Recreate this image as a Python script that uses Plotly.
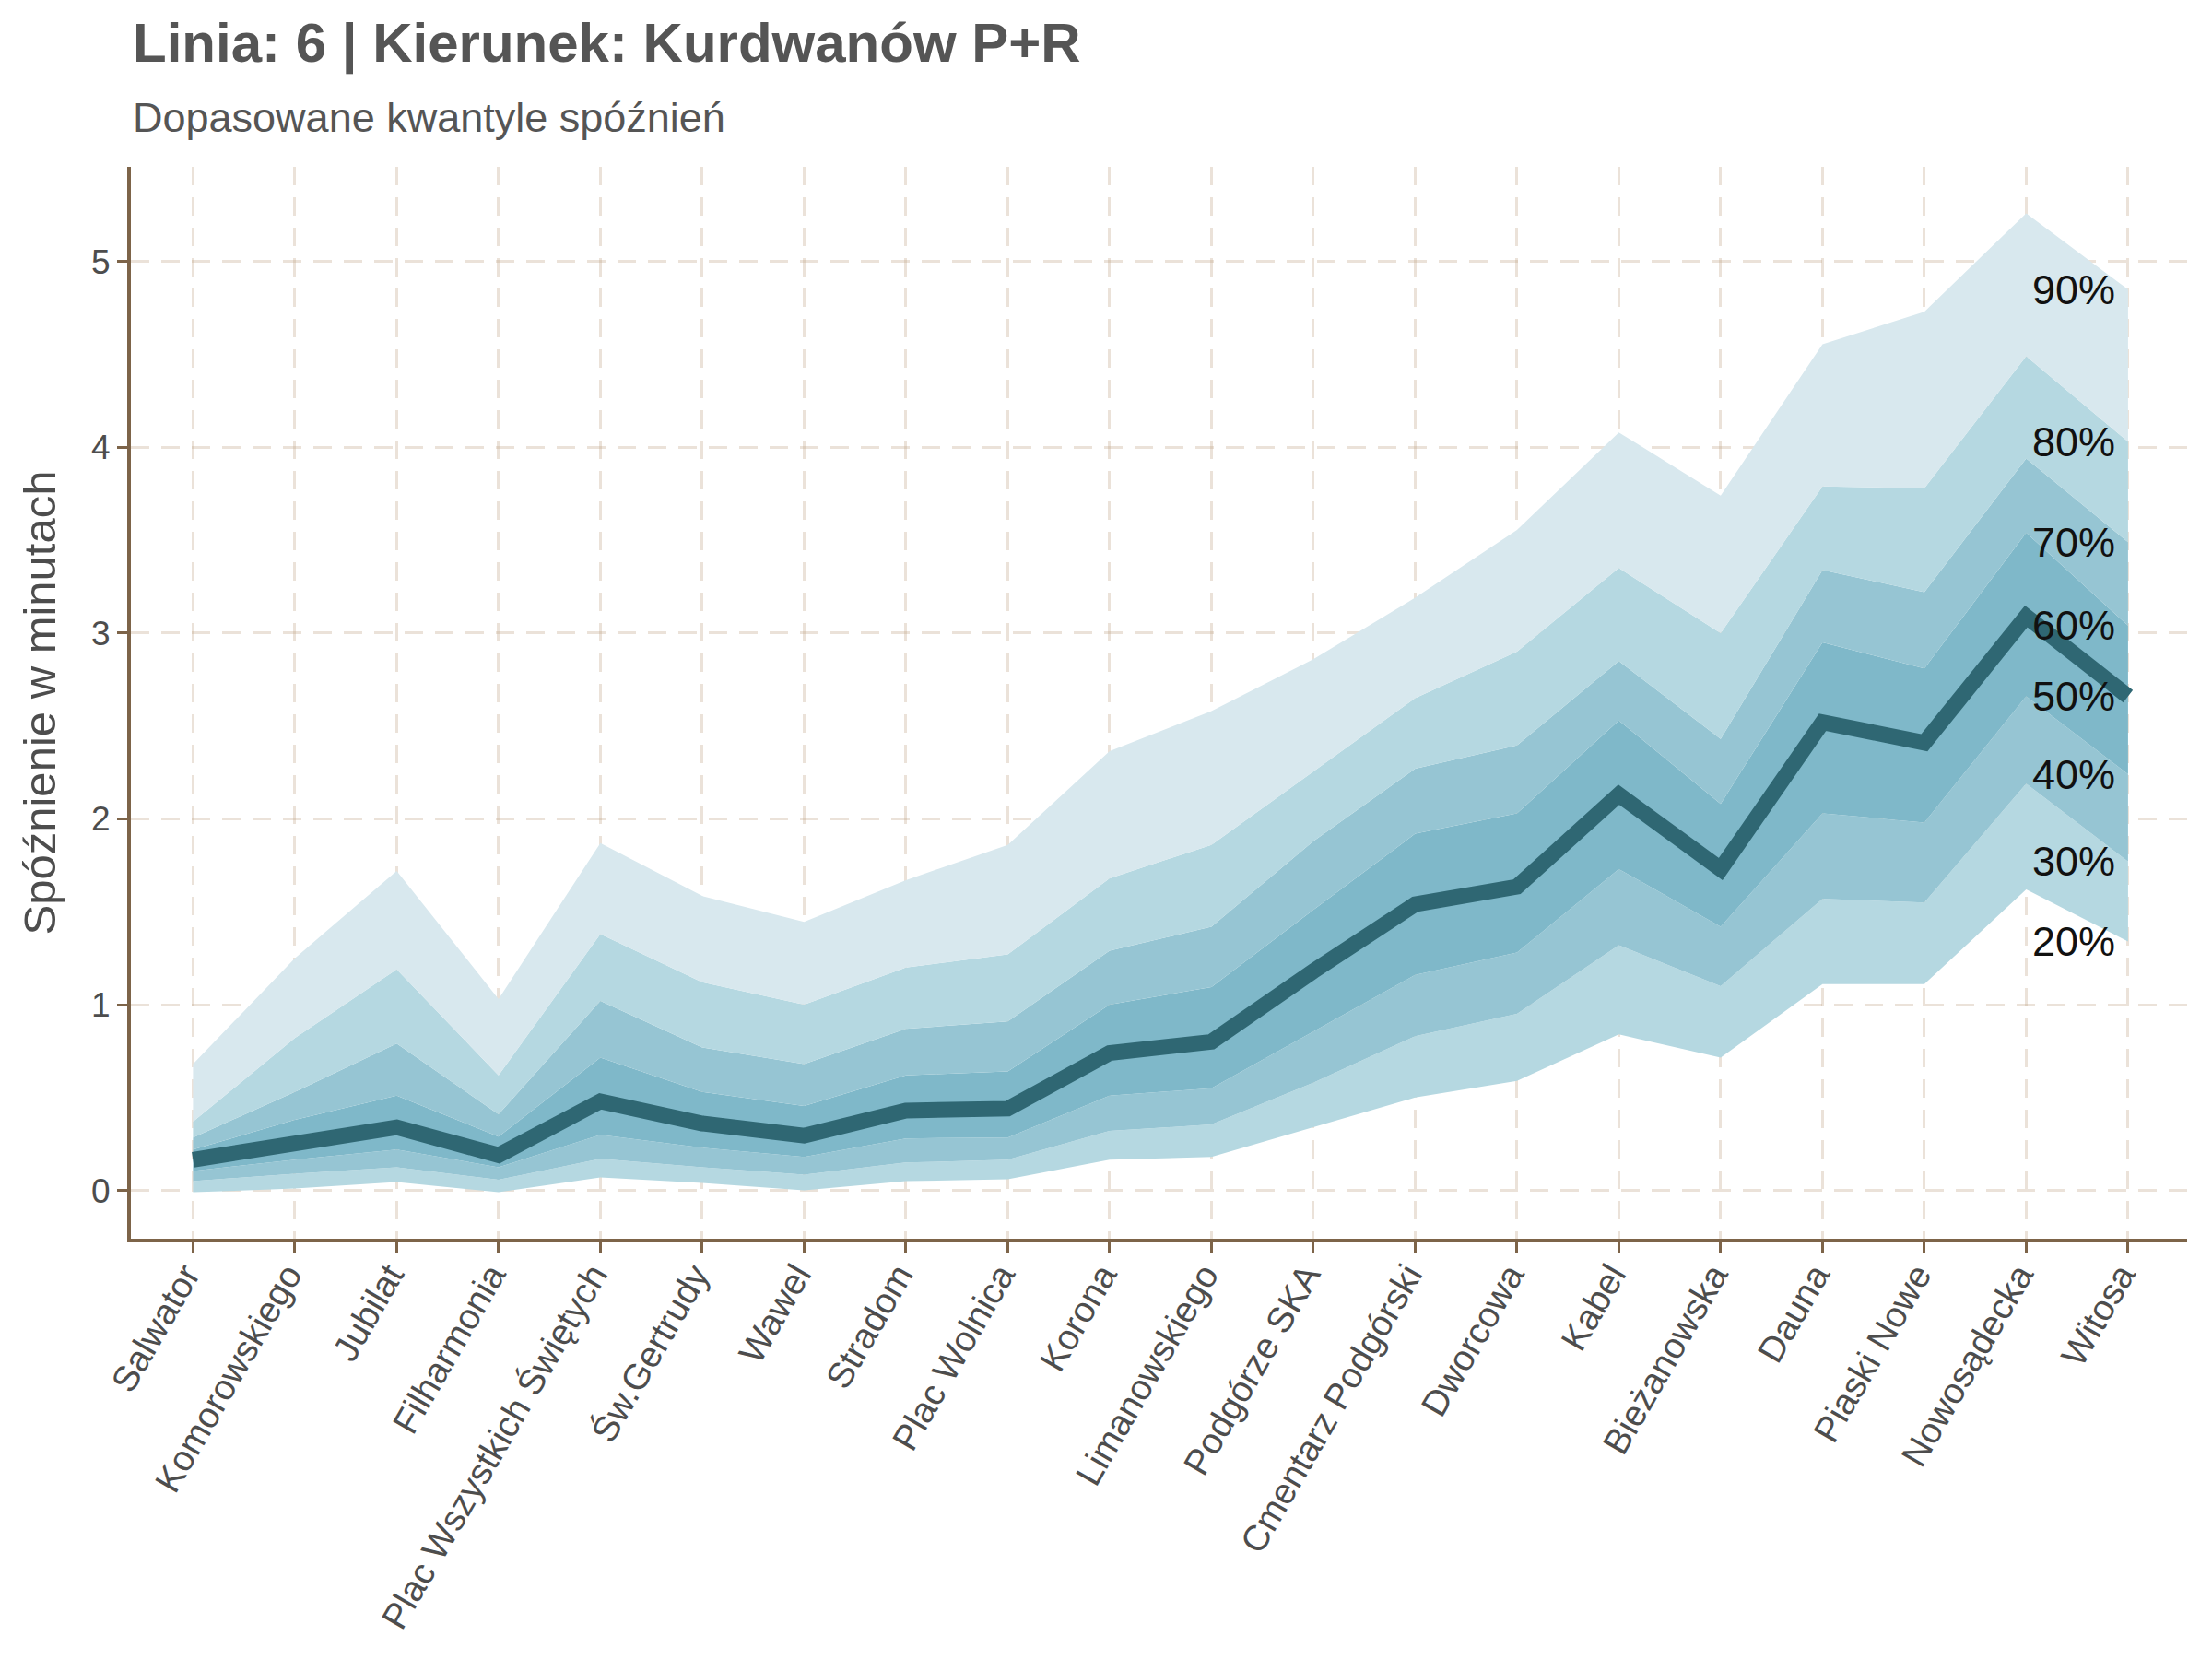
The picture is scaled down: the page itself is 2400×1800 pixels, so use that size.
import plotly.graph_objects as go

# przystanki linii 6 w kierunku Kurdwanów P+R
STOPS = [
    "Salwator", "Komorowskiego", "Jubilat", "Filharmonia", "Plac Wszystkich Świętych",
    "Św.Gertrudy", "Wawel", "Stradom", "Plac Wolnica", "Korona", "Limanowskiego",
    "Podgórze SKA", "Cmentarz Podgórski", "Dworcowa", "Kabel", "Bieżanowska",
    "Dauna", "Piaski Nowe", "Nowosądecka", "Witosa",
]

# kwantyle spóźnień (minuty)
Q20 = [-0.01, 0.01, 0.045, -0.01, 0.07, 0.04, 0.0, 0.05, 0.06, 0.165, 0.18, 0.34, 0.50, 0.59, 0.84, 0.715, 1.11, 1.11, 1.62, 1.34]
Q30 = [0.05, 0.09, 0.125, 0.057, 0.17, 0.125, 0.085, 0.15, 0.165, 0.32, 0.355, 0.58, 0.83, 0.95, 1.32, 1.10, 1.57, 1.55, 2.19, 1.77]
Q40 = [0.105, 0.165, 0.22, 0.125, 0.30, 0.23, 0.18, 0.28, 0.285, 0.51, 0.55, 0.855, 1.16, 1.28, 1.73, 1.42, 2.03, 1.98, 2.66, 2.24]
Q50 = [0.165, 0.26, 0.34, 0.19, 0.48, 0.36, 0.295, 0.43, 0.44, 0.74, 0.80, 1.18, 1.54, 1.635, 2.13, 1.73, 2.52, 2.41, 3.09, 2.66]
Q60 = [0.22, 0.38, 0.51, 0.29, 0.715, 0.53, 0.455, 0.62, 0.64, 1.0, 1.095, 1.51, 1.92, 2.03, 2.53, 2.08, 2.95, 2.81, 3.54, 3.04]
Q70 = [0.285, 0.53, 0.79, 0.41, 1.02, 0.77, 0.68, 0.87, 0.91, 1.29, 1.42, 1.88, 2.27, 2.395, 2.85, 2.43, 3.34, 3.22, 3.94, 3.49]
Q80 = [0.37, 0.82, 1.19, 0.62, 1.38, 1.12, 1.0, 1.2, 1.27, 1.68, 1.86, 2.255, 2.65, 2.9, 3.35, 3.0, 3.79, 3.78, 4.49, 4.03]
Q90 = [0.68, 1.25, 1.72, 1.03, 1.87, 1.585, 1.445, 1.67, 1.86, 2.365, 2.58, 2.86, 3.19, 3.555, 4.08, 3.74, 4.555, 4.73, 5.26, 4.85]

QUANTILE_LABELS = ["20%", "30%", "40%", "50%", "60%", "70%", "80%", "90%"]
Y_TICKS = [0, 1, 2, 3, 4, 5]

FONT = "Liberation Sans, Arial, sans-serif"
AXIS_COLOR = "#7d6449"
GRID_COLOR = "rgba(190,160,130,0.3)"

# pasma: (kwantyl, kolor wypełnienia od poprzedniego kwantyla)
bands = [
    (Q20, None),
    (Q30, "#b5d8e1"),
    (Q40, "#96c5d3"),
    (Q60, "#7fb8c9"),
    (Q70, "#96c5d3"),
    (Q80, "#b5d8e1"),
    (Q90, "#d8e8ee"),
]

fig = go.Figure()
for values, color in bands:
    fig.add_trace(go.Scatter(
        x=STOPS, y=values, mode="lines",
        line=dict(width=0),
        fill="tonexty" if color else None,
        fillcolor=color,
        showlegend=False, hoverinfo="skip",
    ))

fig.add_trace(go.Scatter(
    x=STOPS, y=Q50, mode="lines",
    line=dict(color="#2f6773", width=17),
    showlegend=False,
))

last = [q[-1] for q in (Q20, Q30, Q40, Q50, Q60, Q70, Q80, Q90)]
for label, val in zip(QUANTILE_LABELS, last):
    fig.add_annotation(
        x=STOPS[-1], y=val, text=label, showarrow=False,
        xanchor="right", yanchor="middle", xshift=-12,
        font=dict(family=FONT, size=45, color="#111111"),
    )

fig.add_annotation(
    xref="paper", yref="paper", x=0, y=1.1152, xanchor="left", yanchor="middle",
    text="<b>Linia: 6 | Kierunek: Kurdwanów P+R</b>", showarrow=False,
    font=dict(family=FONT, size=60, color="#555555"),
)
fig.add_annotation(
    xref="paper", yref="paper", x=0, y=1.0456, xanchor="left", yanchor="middle",
    text="Dopasowane kwantyle spóźnień", showarrow=False,
    font=dict(family=FONT, size=45, color="#555555"),
)

fig.update_layout(
    width=2400, height=1800,
    margin=dict(l=134, r=35, t=173, b=464),
    paper_bgcolor="white", plot_bgcolor="white",
    font=dict(family=FONT, color="#4d4d4d"),
)
fig.update_xaxes(
    type="category", range=[-0.61, 19.58],
    tickangle=-60, tickfont=dict(family=FONT, size=39, color="#4d4d4d"),
    ticklabelstandoff=-14, ticklabelshift=-8,
    showline=True, linecolor=AXIS_COLOR, linewidth=4,
    ticks="outside", ticklen=11, tickwidth=3, tickcolor=AXIS_COLOR,
    showgrid=True, gridcolor=GRID_COLOR, gridwidth=3, griddash="20px,13px",
    zeroline=False, layer="above traces",
)
fig.update_yaxes(
    range=[-0.26, 5.51], tickvals=Y_TICKS,
    tickfont=dict(family=FONT, size=37, color="#4d4d4d"),
    title=dict(text="Spóźnienie w minutach", font=dict(family=FONT, size=49, color="#4d4d4d"), standoff=24),
    showline=True, linecolor=AXIS_COLOR, linewidth=4,
    ticks="outside", ticklen=11, tickwidth=3, tickcolor=AXIS_COLOR,
    showgrid=True, gridcolor=GRID_COLOR, gridwidth=3, griddash="20px,13px",
    zeroline=False, layer="above traces",
)

fig.write_html("out.html")
